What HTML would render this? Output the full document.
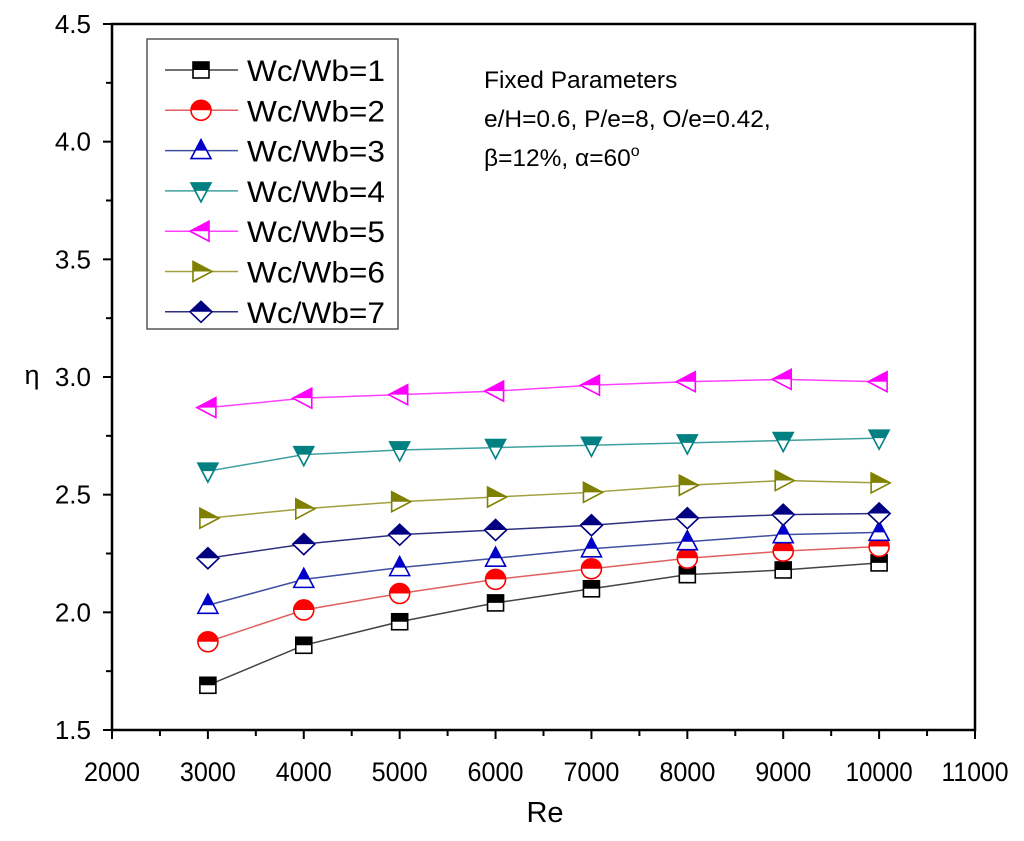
<!DOCTYPE html>
<html><head><meta charset="utf-8"><style>
body{margin:0;background:#fff;}
svg text{font-family:"Liberation Sans",sans-serif;}
</style></head><body>
<svg id="chart" width="1024" height="836"></svg>
<script>
const xValues=[3000,4000,5000,6000,7000,8000,9000,10000];
const s1=[1.69,1.86,1.96,2.04,2.10,2.16,2.18,2.21];
const s2=[1.875,2.01,2.08,2.14,2.185,2.23,2.26,2.28];
const s3=[2.03,2.14,2.19,2.23,2.27,2.30,2.33,2.34];
const s4=[2.60,2.67,2.69,2.70,2.71,2.72,2.73,2.74];
const s5=[2.87,2.91,2.925,2.94,2.965,2.98,2.99,2.98];
const s6=[2.40,2.44,2.47,2.49,2.51,2.54,2.56,2.55];
const s7=[2.23,2.29,2.33,2.35,2.37,2.40,2.415,2.42];
const seriesNames=["Wc/Wb=1","Wc/Wb=2","Wc/Wb=3","Wc/Wb=4","Wc/Wb=5","Wc/Wb=6","Wc/Wb=7"];
const xTicks=[2000,3000,4000,5000,6000,7000,8000,9000,10000,11000];
const yTicks=[1.5,2.0,2.5,3.0,3.5,4.0,4.5];

const NS="http://www.w3.org/2000/svg";
const svg=document.getElementById('chart');
const L=112,R=975,T=24,B=730;
const X=v=>L+(v-2000)/9000*(R-L);
const Y=v=>B-(v-1.5)/3*(B-T);
function el(tag,attrs,parent){const e=document.createElementNS(NS,tag);for(const k in attrs)e.setAttribute(k,attrs[k]);(parent||svg).appendChild(e);return e;}
const defs=el('defs',{});

const frame=el('rect',{x:L,y:T,width:R-L,height:B-T,fill:'none',stroke:'#000','stroke-width':2.5});



for(let v=2000;v<=11000;v+=500){
  const major=v%1000===0;
  const t=el('line',{x1:X(v),x2:X(v),y1:B,y2:B+(major?9:6),stroke:'#000','stroke-width':2});
  
  
}
xTicks.forEach(v=>{
  const s=String(v);
  const t=el('text',{x:X(v),y:781,'font-size':27,'text-anchor':'middle',textLength:s.length===4?56:67,lengthAdjust:'spacingAndGlyphs'});
  t.textContent=s;
  
  
});
for(let i=0;i<=12;i++){
  const v=1.5+i*0.25;const major=i%2===0;
  const t=el('line',{x1:L,x2:L-(major?9:6),y1:Y(v),y2:Y(v),stroke:'#000','stroke-width':2});
  
  
}
yTicks.forEach(v=>{
  const t=el('text',{x:91,y:Y(v)+9,'font-size':26,'text-anchor':'end'});
  t.textContent=v.toFixed(1);
  
  
});
const xt=el('text',{x:545,y:822,'font-size':29,'text-anchor':'middle'});xt.textContent='Re';


const yt=el('text',{x:32,y:384,'font-size':27,'text-anchor':'middle'});yt.textContent='η';



const colors=['#000000','#ff0000','#0000c8','#008080','#ff00ff','#808000','#000080'];
const lineColors=['#444','#e06060','#4050a0','#40a0a0','#ff40ff','#a0a040','#303080'];
const shapes=['square','circle','up','down','left','right','diamond'];
const allSeries=[s1,s2,s3,s4,s5,s6,s7];

function shapeEl(shape,cx,cy,r,attrs,parent){
  let a=Object.assign({},attrs);
  const pts=(arr)=>arr.map(p=>(cx+p[0]*r)+','+(cy+p[1]*r)).join(' ');
  if(shape==='square')return el('rect',Object.assign(a,{x:cx-r*0.8,y:cy-r*0.8,width:1.6*r,height:1.6*r}),parent);
  if(shape==='circle')return el('circle',Object.assign(a,{cx:cx,cy:cy,r:r}),parent);
  const P={up:[[0,-1.1],[1,0.8],[-1,0.8]],down:[[0,1.1],[1,-0.8],[-1,-0.8]],left:[[-1.1,0],[0.8,-1],[0.8,1]],right:[[1.1,0],[-0.8,-1],[-0.8,1]],diamond:[[0,-1.05],[1.1,0],[0,1.05],[-1.1,0]]};
  return el('polygon',Object.assign(a,{points:pts(P[shape])}),parent);
}
let cid=0;
function marker(shape,cx,cy,color,name){
  const g=el('g',{});
  
  
  const r=10;
  shapeEl(shape,cx,cy,r,{fill:'#fff',stroke:color,'stroke-width':1.6},g);
  const f=shapeEl(shape,cx,cy,r,{fill:color,stroke:'none'},g);
  const c=el('clipPath',{id:'c'+(cid++)},defs);
  el('rect',{x:cx-15,y:cy-15,width:30,height:15},c);
  f.setAttribute('clip-path','url(#'+c.id+')');
  return g;
}
allSeries.forEach((s,i)=>{
  const line=el('polyline',{points:s.map((v,j)=>X(xValues[j])+','+Y(v)).join(' '),fill:'none',stroke:lineColors[i],'stroke-width':1.5});
  
  
  s.forEach((v,j)=>marker(shapes[i],X(xValues[j]),Y(v),colors[i],'point-s'+(i+1)));
});

const lg=el('g',{});


el('rect',{x:147,y:39,width:251,height:290,fill:'#fff',stroke:'#555','stroke-width':1.5},lg);
seriesNames.forEach((n,i)=>{
  const y=70+i*40.3;
  const e=el('g',{},lg);
  
  
  el('line',{x1:165,x2:238,y1:y,y2:y,stroke:lineColors[i],'stroke-width':1.5},e);
  e.appendChild(marker(shapes[i],201,y,colors[i],'legend-marker'));
  const t=el('text',{x:247,y:y+11,'font-size':30,textLength:138,lengthAdjust:'spacingAndGlyphs'},e);t.textContent=n;
});

const ann=el('g',{});


[['Fixed Parameters',88],['e/H=0.6, P/e=8, O/e=0.42,',127]].forEach(a=>{const t=el('text',{x:484,y:a[1],'font-size':24.5},ann);t.textContent=a[0];});
const t3=el('text',{x:484,y:166,'font-size':24.5},ann);
t3.innerHTML='β=12%, α=60<tspan dy="-10" font-size="16">o</tspan>';
</script>
</body></html>
